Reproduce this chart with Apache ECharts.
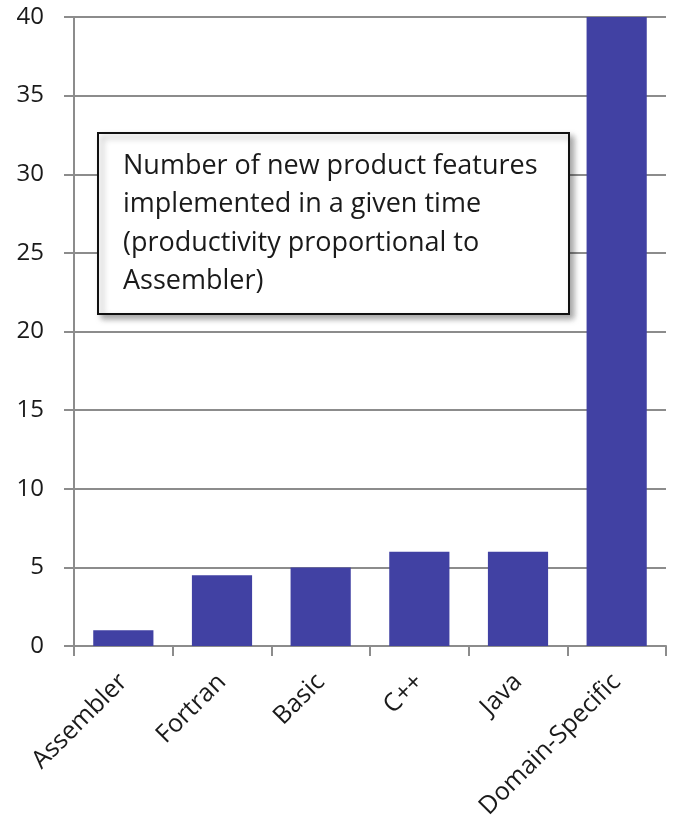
<!DOCTYPE html>
<html><head><meta charset="utf-8">
<script src="https://cdn.jsdelivr.net/npm/echarts@6/dist/echarts.min.js"></script>
<style>html,body{margin:0;padding:0;background:#fff}#c{width:673px;height:838px}</style>
</head><body><div id="c"></div>
<script>
const categories = ['Assembler', 'Fortran', 'Basic', 'C++', 'Java', 'Domain-Specific'];
const values = [1, 4.5, 5, 6, 6, 40];
const yTicks = [0, 5, 10, 15, 20, 25, 30, 35, 40];
const noteLines = ['Number of new product features', 'implemented in a given time', '(productivity proportional to', 'Assembler)'];

const chart = echarts.init(document.getElementById('c'));
const font = '"Open Sans", sans-serif';
chart.setOption({
  animation: false,
  grid: {left: 74, right: 7, top: 17, bottom: 192, containLabel: false},
  xAxis: {
    type: 'category', data: categories,
    axisLine: {lineStyle: {color: '#8c8c8c', width: 2}},
    axisTick: {show: true, length: 10, alignWithLabel: false, lineStyle: {color: '#8c8c8c', width: 2}},
    axisLabel: {rotate: 45, fontSize: 25, color: '#1a1a1a', fontFamily: font, margin: 32, interval: 0}
  },
  yAxis: {
    type: 'value', min: 0, max: 40, interval: 5,
    axisLine: {show: true, lineStyle: {color: '#8c8c8c', width: 2}},
    axisTick: {show: true, length: 10, lineStyle: {color: '#8c8c8c', width: 2}},
    splitLine: {show: true, lineStyle: {color: '#8c8c8c', width: 2}},
    axisLabel: {fontSize: 24, color: '#1a1a1a', fontFamily: font, margin: 30,
      formatter: v => yTicks.includes(v) ? String(v) : ''}
  },
  series: [{
    type: 'bar', data: values, barCategoryGap: '39%',
    itemStyle: {color: '#4141a3'}
  }],
  graphic: [{
    type: 'group', left: 97, top: 132, z: 100,
    children: [
      {type: 'rect', z: 100, shape: {x: 0, y: 0, width: 471, height: 181},
       style: {fill: '#fff', stroke: '#111', lineWidth: 2, shadowBlur: 6, shadowOffsetX: 4, shadowOffsetY: 4, shadowColor: 'rgba(0,0,0,0.35)'}},
      {type: 'text', z: 101, x: 25, y: 14,
       style: {text: noteLines.join('\n'), fontSize: 27, lineHeight: 38.5, fill: '#1a1a1a', fontFamily: font}}
    ]
  }]
});
</script></body></html>
